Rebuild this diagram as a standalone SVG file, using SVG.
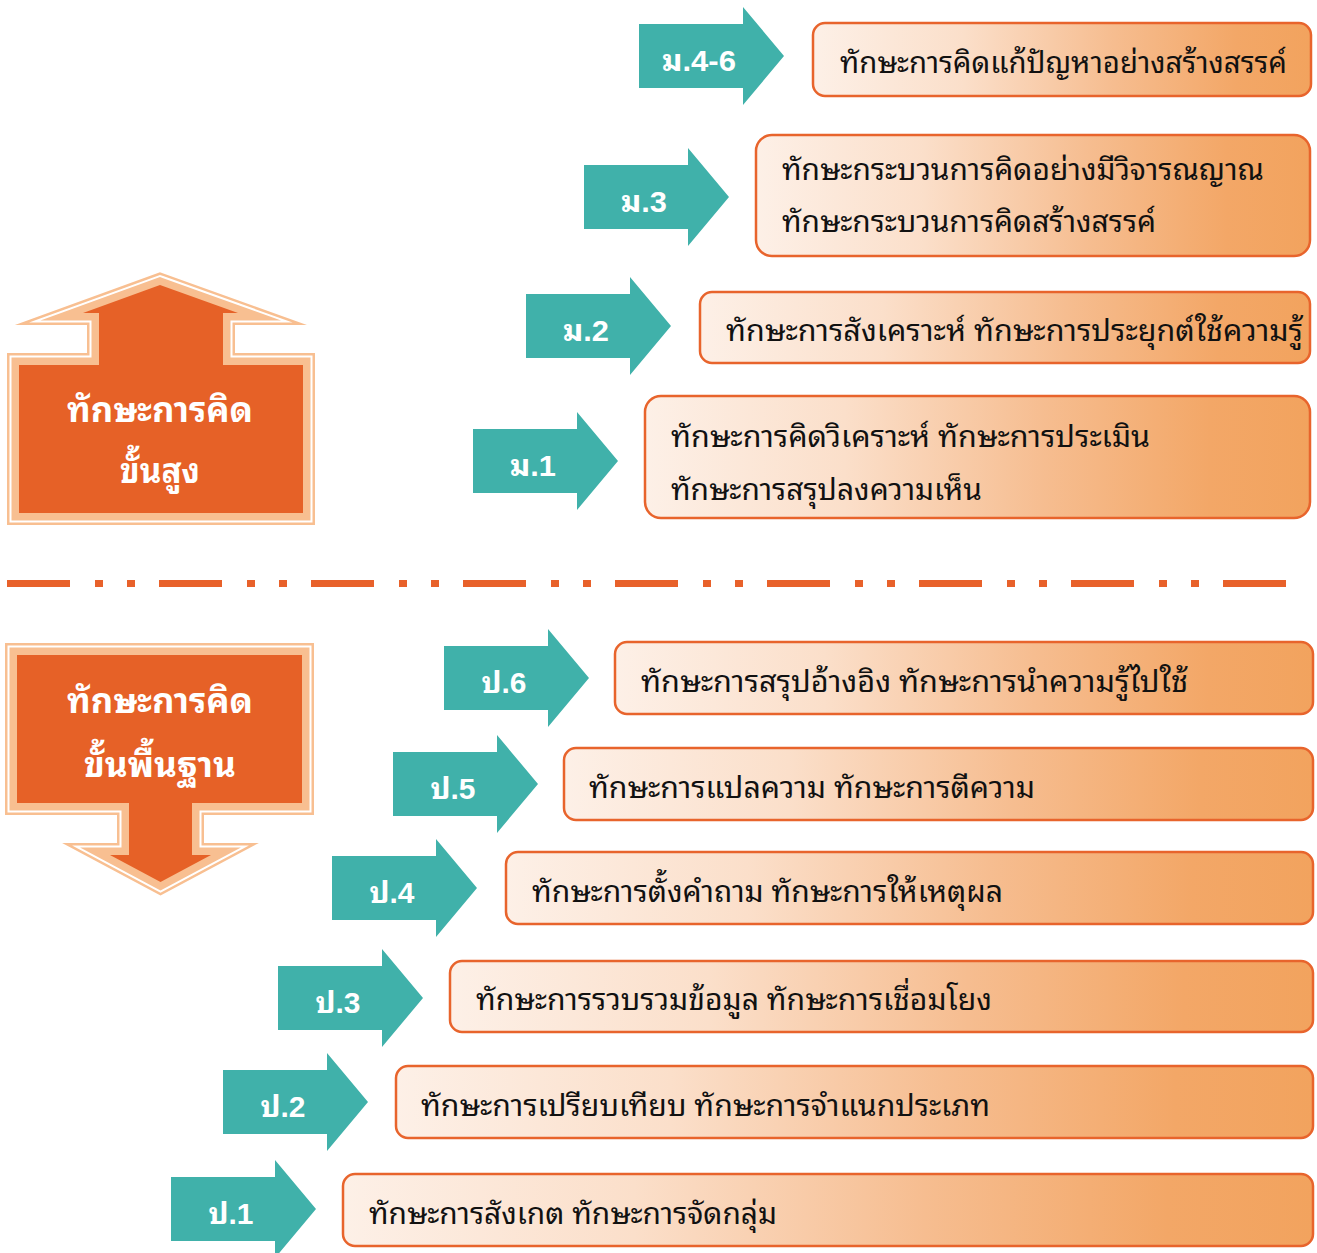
<svg xmlns="http://www.w3.org/2000/svg" width="1317" height="1253" viewBox="0 0 1317 1253">
  <style>
    .box { fill: url(#boxGrad); stroke: #e8642c; stroke-width: 2.5; }
    .teal { fill: #40b1aa; }
    .lbl { font-family: "Liberation Sans", "Noto Sans Thai Looped", "Noto Serif Thai", "Loma", "Garuda", "Norasi", "Noto Sans Thai", sans-serif; font-weight: bold; font-size: 29px; fill: #ffffff; text-anchor: middle; }
    .txt { font-family: "Noto Sans Thai Looped", "Noto Serif Thai", "Loma", "Garuda", "Norasi", "Sarabun", "Noto Sans Thai", "DejaVu Sans", sans-serif; font-size: 30px; fill: #111111; }
    .big { font-family: "Noto Sans Thai Looped", "Noto Serif Thai", "Loma", "Garuda", "Norasi", "Sarabun", "Noto Sans Thai", "DejaVu Sans", sans-serif; font-weight: bold; font-size: 34px; fill: #ffffff; text-anchor: middle; }
    .bigO1 { fill: none; stroke: #f8bf91; stroke-width: 24; stroke-linejoin: miter; stroke-miterlimit: 12; }
    .bigO2 { fill: none; stroke: #ffffff; stroke-width: 19; stroke-linejoin: miter; stroke-miterlimit: 12; }
    .bigO3 { fill: none; stroke: #f8bf91; stroke-width: 15; stroke-linejoin: miter; stroke-miterlimit: 12; }
    .bigF { fill: #e66127; }
  </style>
  <defs>
    <linearGradient id="boxGrad" x1="0" y1="0" x2="1" y2="0">
      <stop offset="0" stop-color="#fdf0e7"/>
      <stop offset="0.3" stop-color="#fbdfca"/>
      <stop offset="0.6" stop-color="#f6bd90"/>
      <stop offset="0.85" stop-color="#f3a767"/>
      <stop offset="1" stop-color="#f2a35e"/>
    </linearGradient>
    <path id="ta" d="M0,-32 H104 V-49 L145,0 L104,49 V32 H0 Z"/>
    <path id="upArrow" d="M160,285 L238,313 H223 V365 H303 V513 H19 V365 H99 V313 H83 Z"/>
    <path id="downArrow" d="M17,655 H302 V803 H192 V855 H211 L160.5,882 L110,855 H129 V803 H17 Z"/>
  </defs>

  <rect width="1317" height="1253" fill="#ffffff"/>

  <g id="level-high">
    <use href="#upArrow" class="bigO1"/>
    <use href="#upArrow" class="bigO2"/>
    <use href="#upArrow" class="bigO3"/>
    <use href="#upArrow" class="bigF"/>
    <text class="big" x="160" y="422" textLength="186" lengthAdjust="spacingAndGlyphs">ทักษะการคิด</text>
    <text class="big" x="160" y="483" textLength="80" lengthAdjust="spacingAndGlyphs">ขั้นสูง</text>
  </g>

  <g id="level-basic">
    <use href="#downArrow" class="bigO1"/>
    <use href="#downArrow" class="bigO2"/>
    <use href="#downArrow" class="bigO3"/>
    <use href="#downArrow" class="bigF"/>
    <text class="big" x="160" y="713" textLength="186" lengthAdjust="spacingAndGlyphs">ทักษะการคิด</text>
    <text class="big" x="160" y="777" textLength="152" lengthAdjust="spacingAndGlyphs">ขั้นพื้นฐาน</text>
  </g>

  <g id="divider">
    <line x1="7" y1="583.5" x2="1287" y2="583.5" stroke="#e8612a" stroke-width="7" stroke-dasharray="63 25 8 24 8 24"/>
  </g>

  <g id="m4-6">
    <use href="#ta" class="teal" x="639" y="56"/>
    <text class="lbl" x="699" y="71" textLength="74" lengthAdjust="spacingAndGlyphs">ม.4-6</text>
    <rect class="box" x="813" y="23" width="498" height="73" rx="12"/>
    <text class="txt" x="840" y="73" textLength="447" lengthAdjust="spacingAndGlyphs">ทักษะการคิดแก้ปัญหาอย่างสร้างสรรค์</text>
  </g>

  <g id="m3">
    <use href="#ta" class="teal" x="584" y="197"/>
    <text class="lbl" x="644" y="212" textLength="46" lengthAdjust="spacingAndGlyphs">ม.3</text>
    <rect class="box" x="756" y="135" width="554" height="121" rx="16"/>
    <text class="txt" x="782" y="180" textLength="482" lengthAdjust="spacingAndGlyphs">ทักษะกระบวนการคิดอย่างมีวิจารณญาณ</text>
    <text class="txt" x="782" y="232" textLength="374" lengthAdjust="spacingAndGlyphs">ทักษะกระบวนการคิดสร้างสรรค์</text>
  </g>

  <g id="m2">
    <use href="#ta" class="teal" x="526" y="326"/>
    <text class="lbl" x="586" y="341" textLength="46" lengthAdjust="spacingAndGlyphs">ม.2</text>
    <rect class="box" x="700" y="292" width="610" height="71" rx="12"/>
    <text class="txt" x="726" y="341" textLength="577" lengthAdjust="spacingAndGlyphs">ทักษะการสังเคราะห์ ทักษะการประยุกต์ใช้ความรู้</text>
  </g>

  <g id="m1">
    <use href="#ta" class="teal" x="473" y="461"/>
    <text class="lbl" x="533" y="476" textLength="46" lengthAdjust="spacingAndGlyphs">ม.1</text>
    <rect class="box" x="645" y="396" width="665" height="122" rx="16"/>
    <text class="txt" x="671" y="447" textLength="479" lengthAdjust="spacingAndGlyphs">ทักษะการคิดวิเคราะห์ ทักษะการประเมิน</text>
    <text class="txt" x="671" y="500" textLength="311" lengthAdjust="spacingAndGlyphs">ทักษะการสรุปลงความเห็น</text>
  </g>

  <g id="p6">
    <use href="#ta" class="teal" x="444" y="678"/>
    <text class="lbl" x="504" y="693" textLength="45" lengthAdjust="spacingAndGlyphs">ป.6</text>
    <rect class="box" x="615" y="642" width="698" height="72" rx="12"/>
    <text class="txt" x="641" y="692" textLength="547" lengthAdjust="spacingAndGlyphs">ทักษะการสรุปอ้างอิง ทักษะการนำความรู้ไปใช้</text>
  </g>

  <g id="p5">
    <use href="#ta" class="teal" x="393" y="784"/>
    <text class="lbl" x="453" y="799" textLength="45" lengthAdjust="spacingAndGlyphs">ป.5</text>
    <rect class="box" x="564" y="748" width="749" height="72" rx="12"/>
    <text class="txt" x="589" y="798" textLength="446" lengthAdjust="spacingAndGlyphs">ทักษะการแปลความ ทักษะการตีความ</text>
  </g>

  <g id="p4">
    <use href="#ta" class="teal" x="332" y="888"/>
    <text class="lbl" x="392" y="903" textLength="45" lengthAdjust="spacingAndGlyphs">ป.4</text>
    <rect class="box" x="506" y="852" width="807" height="72" rx="12"/>
    <text class="txt" x="532" y="902" textLength="471" lengthAdjust="spacingAndGlyphs">ทักษะการตั้งคำถาม ทักษะการให้เหตุผล</text>
  </g>

  <g id="p3">
    <use href="#ta" class="teal" x="278" y="998"/>
    <text class="lbl" x="338" y="1013" textLength="45" lengthAdjust="spacingAndGlyphs">ป.3</text>
    <rect class="box" x="450" y="961" width="863" height="71" rx="12"/>
    <text class="txt" x="476" y="1010" textLength="516" lengthAdjust="spacingAndGlyphs">ทักษะการรวบรวมข้อมูล ทักษะการเชื่อมโยง</text>
  </g>

  <g id="p2">
    <use href="#ta" class="teal" x="223" y="1102"/>
    <text class="lbl" x="283" y="1117" textLength="45" lengthAdjust="spacingAndGlyphs">ป.2</text>
    <rect class="box" x="396" y="1066" width="917" height="72" rx="12"/>
    <text class="txt" x="421" y="1116" textLength="569" lengthAdjust="spacingAndGlyphs">ทักษะการเปรียบเทียบ ทักษะการจำแนกประเภท</text>
  </g>

  <g id="p1">
    <use href="#ta" class="teal" x="171" y="1209"/>
    <text class="lbl" x="231" y="1224" textLength="45" lengthAdjust="spacingAndGlyphs">ป.1</text>
    <rect class="box" x="343" y="1174" width="970" height="72" rx="12"/>
    <text class="txt" x="369" y="1224" textLength="408" lengthAdjust="spacingAndGlyphs">ทักษะการสังเกต ทักษะการจัดกลุ่ม</text>
  </g>
</svg>
